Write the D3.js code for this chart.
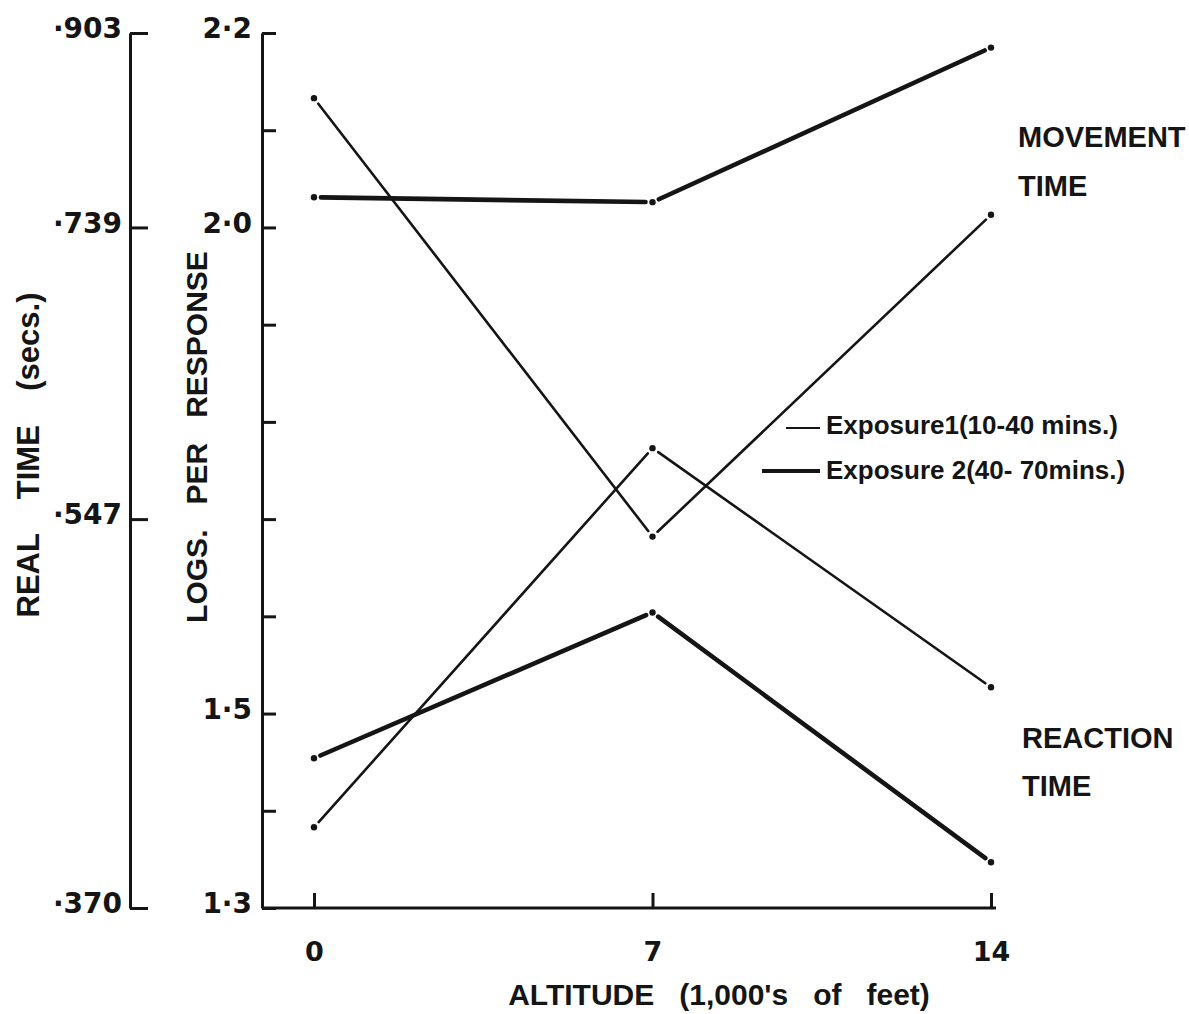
<!DOCTYPE html>
<html>
<head>
<meta charset="utf-8">
<script src="https://cdn.jsdelivr.net/npm/d3@7"></script>
<style>
  html, body { margin: 0; padding: 0; background: #fff; }
  svg { display: block; }
  .lbl { font-family: "Liberation Sans", Arial, sans-serif; font-weight: 700; fill: #151515; white-space: pre; }
  .num { font-family: "DejaVu Sans", sans-serif; font-weight: 700; fill: #151515; }
</style>
</head>
<body>
<svg id="chart" width="1189" height="1014"></svg>
<script>
// Altitude (thousands of feet)
const altitudes = [0, 7, 14];
const altitudeTickLabels = ["0", "7", "14"];

// Log units per response
const movementExposure1 = [2.133, 1.682, 2.013];
const movementExposure2 = [2.031, 2.026, 2.185];
const reactionExposure1 = [1.383, 1.773, 1.527];
const reactionExposure2 = [1.454, 1.604, 1.347];

// Left-hand ticks
const logTicks = [1.3, 1.4, 1.5, 1.6, 1.7, 1.8, 1.9, 2.0, 2.1, 2.2];
const logTickLabels = ["1·3", "", "1·5", "", "", "", "", "2·0", "", "2·2"];
const realTimeAt = [2.2, 2.0, 1.7, 1.3];
const realTimeLabels = ["·903", "·739", "·547", "·370"];

const series = [
  { name: "Exposure 1 movement", values: movementExposure1, thick: false },
  { name: "Exposure 1 reaction", values: reactionExposure1, thick: false },
  { name: "Exposure 2 movement", values: movementExposure2, thick: true },
  { name: "Exposure 2 reaction", values: reactionExposure2, thick: true }
];

const ink = "#151515";
const svg = d3.select("#chart");

const x = d3.scaleLinear().domain([0, 14]).range([314, 991]);
const y = d3.scaleLinear().domain([1.3, 2.2]).range([908, 33]);

// Real-time axis (seconds), ticks pointing right, labels on the left
const realAxis = d3.axisLeft(y)
  .tickValues(realTimeAt)
  .tickFormat((d, i) => realTimeLabels[i])
  .tickSizeInner(-18)
  .tickSizeOuter(0)
  .tickPadding(8);
const gReal = svg.append("g").attr("transform", "translate(130,0)").call(realAxis);

// Log axis
const logAxis = d3.axisLeft(y)
  .tickValues(logTicks)
  .tickFormat((d, i) => logTickLabels[i])
  .tickSizeInner(-14)
  .tickSizeOuter(0)
  .tickPadding(10);
const gLog = svg.append("g").attr("transform", "translate(262,0)").call(logAxis);

[gReal, gLog].forEach(g => {
  g.select(".domain").attr("stroke", ink).attr("stroke-width", 3);
  g.selectAll(".tick line").attr("stroke", ink).attr("stroke-width", 3);
  g.selectAll(".tick text")
    .attr("class", "num")
    .attr("font-size", 28)
    .attr("dy", "0.17em")
    .attr("fill", ink);
});

// Altitude axis: baseline from the log axis to the last station, ticks upward
svg.append("line")
  .attr("x1", 262).attr("x2", x(14) + 5)
  .attr("y1", y(1.3)).attr("y2", y(1.3))
  .attr("stroke", ink).attr("stroke-width", 3);

const altAxis = d3.axisBottom(x)
  .tickValues(altitudes)
  .tickFormat((d, i) => altitudeTickLabels[i])
  .tickSizeInner(-15)
  .tickSizeOuter(0)
  .tickPadding(34);
const gAlt = svg.append("g").attr("transform", `translate(0,${y(1.3)})`).call(altAxis);
gAlt.select(".domain").remove();
gAlt.selectAll(".tick line").attr("stroke", ink).attr("stroke-width", 3);
gAlt.selectAll(".tick text").attr("class", "num").attr("font-size", 27).attr("fill", ink);

// Lines: each segment stops short of its plotted points
const gap = 7;
series.forEach(s => {
  const pts = altitudes.map((a, i) => [x(a), y(s.values[i])]);
  for (let i = 0; i < pts.length - 1; i++) {
    const [x0, y0] = pts[i], [x1, y1] = pts[i + 1];
    const len = Math.hypot(x1 - x0, y1 - y0);
    const ux = (x1 - x0) / len, uy = (y1 - y0) / len;
    svg.append("line")
      .attr("x1", x0 + ux * gap).attr("y1", y0 + uy * gap)
      .attr("x2", x1 - ux * gap).attr("y2", y1 - uy * gap)
      .attr("stroke", ink)
      .attr("stroke-width", s.thick ? 4.6 : 2.6)
      .attr("stroke-linecap", "round");
  }
  svg.selectAll(null).data(pts).enter().append("circle")
    .attr("cx", d => d[0]).attr("cy", d => d[1]).attr("r", 3.2)
    .attr("fill", ink);
});

// Axis titles
svg.append("text").attr("class", "lbl").attr("font-size", 31)
  .attr("text-anchor", "middle")
  .attr("transform", "translate(39,455) rotate(-90)")
  .text("REAL    TIME    (secs.)");
svg.append("text").attr("class", "lbl").attr("font-size", 30)
  .attr("text-anchor", "middle")
  .attr("transform", "translate(207,437) rotate(-90)")
  .text("LOGS.   PER   RESPONSE");
svg.append("text").attr("class", "lbl").attr("font-size", 30)
  .attr("text-anchor", "middle")
  .attr("x", 719).attr("y", 1005)
  .text("ALTITUDE   (1,000's   of   feet)");

// Curve labels
svg.append("text").attr("class", "lbl").attr("font-size", 29).attr("x", 1018).attr("y", 147).text("MOVEMENT");
svg.append("text").attr("class", "lbl").attr("font-size", 29).attr("x", 1018).attr("y", 196).text("TIME");
svg.append("text").attr("class", "lbl").attr("font-size", 29).attr("x", 1022).attr("y", 748).text("REACTION");
svg.append("text").attr("class", "lbl").attr("font-size", 29).attr("x", 1022).attr("y", 796).text("TIME");

// Legend
svg.append("line").attr("x1", 786).attr("x2", 820).attr("y1", 428).attr("y2", 428)
  .attr("stroke", ink).attr("stroke-width", 2.2);
svg.append("text").attr("class", "lbl").attr("font-size", 26).attr("x", 826).attr("y", 434)
  .text("Exposure1(10-40 mins.)");
svg.append("line").attr("x1", 762).attr("x2", 820).attr("y1", 471).attr("y2", 471)
  .attr("stroke", ink).attr("stroke-width", 4);
svg.append("text").attr("class", "lbl").attr("font-size", 26).attr("x", 826).attr("y", 479)
  .text("Exposure 2(40- 70mins.)");
</script>
</body>
</html>
